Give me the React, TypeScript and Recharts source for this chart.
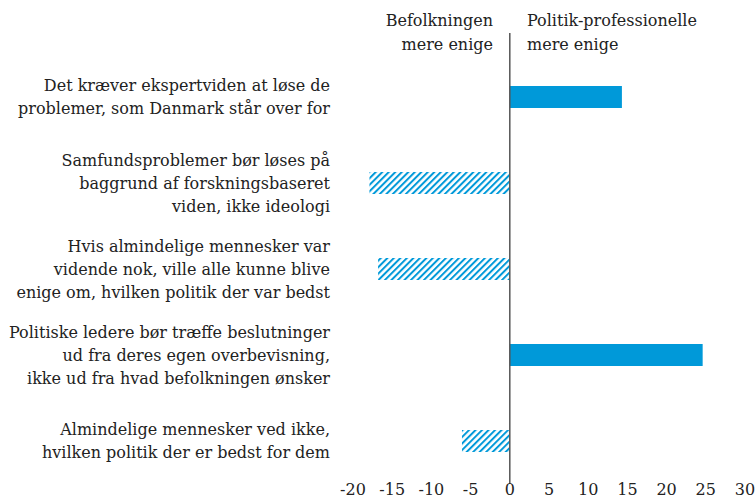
import React from 'react'
import { BarChart, Bar, XAxis, YAxis, Cell, ReferenceLine } from 'recharts'

const statements = [
  ['Det kræver ekspertviden at løse de', 'problemer, som Danmark står over for'],
  ['Samfundsproblemer bør løses på', 'baggrund af forskningsbaseret', 'viden, ikke ideologi'],
  ['Hvis almindelige mennesker var', 'vidende nok, ville alle kunne blive', 'enige om, hvilken politik der var bedst'],
  ['Politiske ledere bør træffe beslutninger', 'ud fra deres egen overbevisning,', 'ikke ud fra hvad befolkningen ønsker'],
  ['Almindelige mennesker ved ikke,', 'hvilken politik der er bedst for dem'],
]
const differences = [14.3, -17.9, -16.8, 24.6, -6.1]
const xTicks = [-20, -15, -10, -5, 0, 5, 10, 15, 20, 25, 30]
const leftHeader = ['Befolkningen', 'mere enige']
const rightHeader = ['Politik-professionelle', 'mere enige']

const data = statements.map((lines, i) => ({ name: lines.join('\n'), value: differences[i] }))

const FONT = '"DejaVu Serif", serif'
const BLUE = '#0099d9'

const StatementTick = (props: any) => {
  const { x, y, payload } = props
  const lines: string[] = String(payload.value).split('\n')
  const lh = 23
  const start = y - ((lines.length - 1) * lh) / 2
  return (
    <text x={x} textAnchor="end" fontFamily={FONT} fontSize={16} fill="#222">
      {lines.map((l, i) => (
        <tspan key={i} x={x} y={start + i * lh} dy="0.35em">{l}</tspan>
      ))}
    </text>
  )
}

const ZeroLine = (props: any) => {
  const { x1, y1, y2 } = props
  return <line x1={x1} x2={x1} y1={y1} y2={y2 - 21} stroke="#555" strokeWidth={1.5} />
}

export default function App() {
  return (
    <div style={{ position: 'absolute', left: 0, top: 0, width: 756, height: 498, background: '#fff' }}>
      <BarChart
        width={756}
        height={498}
        data={data}
        layout="vertical"
        margin={{ top: 54, right: 11, bottom: 0, left: 0 }}
        barCategoryGap={32}
      >
        <defs>
          <pattern id="hatch" width="4.6" height="4.6" patternUnits="userSpaceOnUse" patternTransform="rotate(45)">
            <rect width="4.6" height="4.6" fill="#fff" />
            <line x1="1" y1="0" x2="1" y2="4.6" stroke={BLUE} strokeWidth={2} />
          </pattern>
        </defs>
        <XAxis
          type="number"
          domain={[-20, 30]}
          ticks={xTicks}
          axisLine={false}
          tickLine={false}
          tickSize={0}
          tickMargin={0}
          height={14}
          interval={0}
          tick={{ fontFamily: FONT, fontSize: 16, fill: '#222' }}
        />
        <YAxis
          type="category"
          dataKey="name"
          width={353}
          axisLine={false}
          tickLine={false}
          tickSize={0}
          tickMargin={23}
          interval={0}
          tick={<StatementTick />}
        />
        <Bar dataKey="value" barSize={22} isAnimationActive={false}>
          {data.map((d, i) => (
            <Cell key={i} fill={d.value >= 0 ? BLUE : 'url(#hatch)'} />
          ))}
        </Bar>
        <ReferenceLine x={0} shape={<ZeroLine />} />
      </BarChart>
      <svg width={756} height={60} style={{ position: 'absolute', left: 0, top: 0 }}>
        <text textAnchor="end" fontFamily={FONT} fontSize={16} fill="#222">
          {leftHeader.map((l, i) => (
            <tspan key={i} x={493} y={20 + i * 24} dy="0.35em">{l}</tspan>
          ))}
        </text>
        <text textAnchor="start" fontFamily={FONT} fontSize={16} fill="#222">
          {rightHeader.map((l, i) => (
            <tspan key={i} x={527} y={20 + i * 24} dy="0.35em">{l}</tspan>
          ))}
        </text>
      </svg>
    </div>
  )
}
